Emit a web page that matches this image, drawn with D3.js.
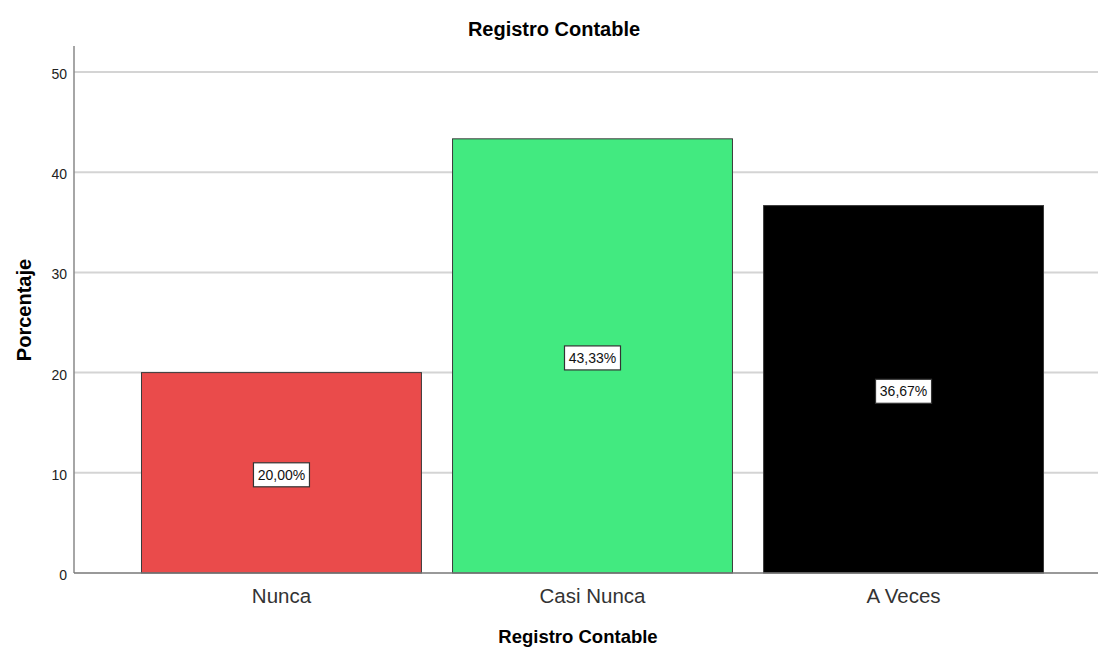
<!DOCTYPE html>
<html>
<head>
<meta charset="utf-8">
<script src="https://cdn.jsdelivr.net/npm/d3@7"></script>
<style>
  body { margin: 0; background: #fff; }
  text { font-family: "Liberation Sans", Arial, sans-serif; }
</style>
</head>
<body>
<svg id="chart" width="1099" height="649"></svg>
<script>
// chart data
const categories = ["Nunca", "Casi Nunca", "A Veces"];
const percentages = [20.00, 43.33, 36.67];
const barColors = ["#ea4b4b", "#42ea80", "#000000"];
const yTicks = [0, 10, 20, 30, 40, 50];

const svg = d3.select("#chart");

const plotLeft = 74, plotRight = 1098, plotTop = 46, plotBottom = 573;

const y = d3.scaleLinear().domain([0, 50]).range([plotBottom, 72]);
const x = d3.scaleBand()
  .domain(categories)
  .range([plotLeft, 1111])
  .paddingInner(0.1)
  .paddingOuter(0.217);

// gridlines
svg.append("g")
  .selectAll("line")
  .data(yTicks.filter(d => d > 0))
  .join("line")
  .attr("x1", plotLeft).attr("x2", plotRight)
  .attr("y1", d => y(d)).attr("y2", d => y(d))
  .attr("stroke", "#d4d4d4")
  .attr("stroke-width", 2);

// y tick labels
svg.append("g")
  .selectAll("text")
  .data(yTicks)
  .join("text")
  .attr("x", plotLeft - 7)
  .attr("y", d => y(d) + 7)
  .attr("text-anchor", "end")
  .attr("font-size", 14)
  .attr("fill", "#222")
  .text(d => d);

// bars
const data = categories.map((c, i) => ({ cat: c, value: percentages[i], color: barColors[i] }));

svg.append("g")
  .selectAll("rect")
  .data(data)
  .join("rect")
  .attr("x", d => x(d.cat))
  .attr("y", d => y(d.value))
  .attr("width", x.bandwidth())
  .attr("height", d => y(0) - y(d.value))
  .attr("fill", d => d.color)
  .attr("stroke", "#3a3a3a")
  .attr("stroke-width", 1);

// axis lines
svg.append("line")
  .attr("x1", plotLeft).attr("x2", plotLeft)
  .attr("y1", plotTop).attr("y2", plotBottom)
  .attr("stroke", "#888").attr("stroke-width", 1.5);
svg.append("line")
  .attr("x1", plotLeft).attr("x2", plotRight)
  .attr("y1", plotBottom).attr("y2", plotBottom)
  .attr("stroke", "#777").attr("stroke-width", 1.5);

// value labels in boxes
const fmt = v => v.toFixed(2).replace(".", ",") + "%";
const labels = svg.append("g")
  .selectAll("g")
  .data(data)
  .join("g")
  .attr("transform", d => `translate(${x(d.cat) + x.bandwidth() / 2},${y(d.value / 2) + 2})`);

labels.append("rect")
  .attr("x", -28).attr("y", -12)
  .attr("width", 56).attr("height", 24)
  .attr("fill", "#fff")
  .attr("stroke", "#333")
  .attr("stroke-width", 1.2);

labels.append("text")
  .attr("text-anchor", "middle")
  .attr("dy", "0.36em")
  .attr("font-size", 14)
  .attr("fill", "#111")
  .text(d => fmt(d.value));

// category labels
svg.append("g")
  .selectAll("text")
  .data(categories)
  .join("text")
  .attr("x", d => x(d) + x.bandwidth() / 2)
  .attr("y", 603)
  .attr("text-anchor", "middle")
  .attr("font-size", 20.5)
  .attr("fill", "#333")
  .text(d => d);

// titles
svg.append("text")
  .attr("x", 554).attr("y", 36)
  .attr("text-anchor", "middle")
  .attr("font-size", 20)
  .attr("font-weight", "bold")
  .text("Registro Contable");

svg.append("text")
  .attr("x", 578).attr("y", 643)
  .attr("text-anchor", "middle")
  .attr("font-size", 18.5)
  .attr("font-weight", "bold")
  .text("Registro Contable");

svg.append("text")
  .attr("transform", "translate(31,310) rotate(-90)")
  .attr("text-anchor", "middle")
  .attr("font-size", 20)
  .attr("font-weight", "bold")
  .text("Porcentaje");
</script>
</body>
</html>
